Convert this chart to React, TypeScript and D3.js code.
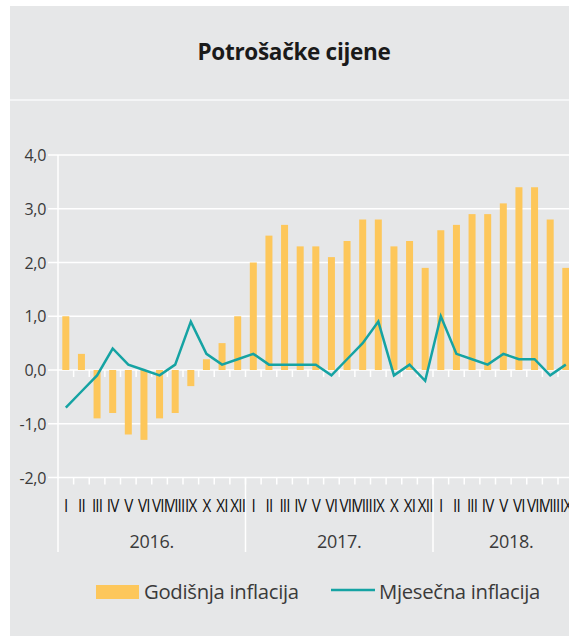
import React, { useEffect, useRef } from "react";
import * as d3 from "d3";

const years = ["2016.", "2017.", "2018."];
const monthLabels = ["I", "II", "III", "IV", "V", "VI", "VII", "VIII", "IX", "X", "XI", "XII"];
const monthsInYear = [12, 12, 10];

// Godišnja inflacija (%), Jan 2016 - Sep 2018
const annual = [
  1.0, 0.3, -0.9, -0.8, -1.2, -1.3, -0.9, -0.8, -0.3, 0.2, 0.5, 1.0,
  2.0, 2.5, 2.7, 2.3, 2.3, 2.1, 2.4, 2.8, 2.8, 2.3, 2.4, 1.9,
  2.6, 2.7, 2.9, 2.9, 3.1, 3.4, 3.4, 2.8, 1.9,
];

// Mjesečna inflacija (%)
const monthly = [
  -0.7, -0.4, -0.1, 0.4, 0.1, 0.0, -0.1, 0.1, 0.9, 0.3, 0.1, 0.2,
  0.3, 0.1, 0.1, 0.1, 0.1, -0.1, 0.2, 0.5, 0.9, -0.1, 0.1, -0.2,
  1.0, 0.3, 0.2, 0.1, 0.3, 0.2, 0.2, -0.1, 0.1,
];

const yTicks = [4, 3, 2, 1, 0, -1, -2];

const W = 569;
const H = 636;
const FONT = "'Open Sans', 'Noto Sans', sans-serif";

const App: React.FC = () => {
  const svgRef = useRef<SVGSVGElement>(null);

  useEffect(() => {
    if (!svgRef.current) return;
    const svg = d3.select(svgRef.current);
    svg.selectAll("*").remove();

    const totalMonths = d3.sum(monthsInYear);
    const left = 58;
    const monthW = 15.625;

    const x = d3
      .scaleBand<number>()
      .domain(d3.range(totalMonths))
      .range([left, left + totalMonths * monthW])
      .paddingInner(0);

    const y = d3.scaleLinear().domain([-2, 4]).range([477.5, 155]);

    // background
    svg.append("rect").attr("x", 10).attr("y", 6).attr("width", W - 10).attr("height", H - 6).attr("fill", "#e6e7e8");
    svg.append("rect").attr("x", 10).attr("y", 99).attr("width", W - 10).attr("height", 2).attr("fill", "#f4f5f6");

    svg
      .append("text")
      .attr("x", 294)
      .attr("y", 60)
      .attr("text-anchor", "middle")
      .attr("font-family", FONT)
      .attr("font-weight", 700)
      .attr("font-size", 22.5)
      .attr("fill", "#1a1a1a")
      .attr("letter-spacing", -0.3)
      .text("Potrošačke cijene");

    // grid
    const grid = svg.append("g");
    grid
      .selectAll("line")
      .data(yTicks)
      .enter()
      .append("line")
      .attr("x1", 48)
      .attr("x2", W)
      .attr("y1", (d) => y(d))
      .attr("y2", (d) => y(d))
      .attr("stroke", "#fff")
      .attr("stroke-width", 1.5);

    svg
      .append("g")
      .selectAll("text")
      .data(yTicks)
      .enter()
      .append("text")
      .attr("x", 46)
      .attr("y", (d) => y(d) + 6)
      .attr("text-anchor", "end")
      .attr("font-family", FONT)
      .attr("font-size", 16)
      .attr("fill", "#3a3a3a")
      .attr("letter-spacing", -0.3)
      .text((d) => (d < 0 ? "-" : "") + Math.abs(d).toFixed(1).replace(".", ","));

    // month ticks under 0 and -2 lines
    const bounds = d3.range(1, totalMonths);
    [0, -2].forEach((v) => {
      svg
        .append("g")
        .selectAll("line")
        .data(bounds)
        .enter()
        .append("line")
        .attr("x1", (i) => x(i)!)
        .attr("x2", (i) => x(i)!)
        .attr("y1", y(v))
        .attr("y2", y(v) + 7)
        .attr("stroke", "#fff")
        .attr("stroke-width", 1.5);
    });

    // left axis and year separators
    const yearStarts = monthsInYear.map((_, i) => d3.sum(monthsInYear.slice(0, i)));
    svg
      .append("line")
      .attr("x1", left)
      .attr("x2", left)
      .attr("y1", y(4))
      .attr("y2", 552)
      .attr("stroke", "#fff")
      .attr("stroke-width", 1.5);
    svg
      .append("g")
      .selectAll("line")
      .data(yearStarts.slice(1))
      .enter()
      .append("line")
      .attr("x1", (i) => x(i)!)
      .attr("x2", (i) => x(i)!)
      .attr("y1", y(-2))
      .attr("y2", 552)
      .attr("stroke", "#fff")
      .attr("stroke-width", 1.5);

    // bars
    const barW = 7;
    svg
      .append("g")
      .selectAll("rect")
      .data(annual)
      .enter()
      .append("rect")
      .attr("x", (_, i) => x(i)! + x.bandwidth() / 2 - barW / 2)
      .attr("y", (d) => y(Math.max(0, d)))
      .attr("width", barW)
      .attr("height", (d) => Math.abs(y(d) - y(0)))
      .attr("fill", "#fdc75b");

    // line
    const line = d3
      .line<number>()
      .x((_, i) => x(i)! + x.bandwidth() / 2)
      .y((d) => y(d));
    svg
      .append("path")
      .datum(monthly)
      .attr("fill", "none")
      .attr("stroke", "#15a3a3")
      .attr("stroke-width", 2.5)
      .attr("stroke-linejoin", "miter")
      .attr("d", line);

    // month labels (condensed, overlapping like the original)
    svg
      .append("g")
      .selectAll("text")
      .data(d3.range(totalMonths))
      .enter()
      .append("text")
      .attr("transform", (i) => `translate(${x(i)! + x.bandwidth() / 2},512) scale(0.8,1)`)
      .attr("text-anchor", "middle")
      .attr("font-family", FONT)
      .attr("font-size", 19)
      .attr("fill", "#111")
      .attr("letter-spacing", -1)
      .text((i) => monthLabels[(i - yearStarts[d3.bisectRight(yearStarts, i) - 1]) % 12]);

    // year labels
    svg
      .append("g")
      .selectAll("text")
      .data(years)
      .enter()
      .append("text")
      .attr("x", (_, i) => x(yearStarts[i])! + (monthsInYear[i] * monthW) / 2)
      .attr("y", 548)
      .attr("text-anchor", "middle")
      .attr("font-family", FONT)
      .attr("font-size", 18)
      .attr("fill", "#3a3a3a")
      .attr("letter-spacing", -0.3)
      .text((d) => d);

    // legend
    const lg = svg.append("g");
    lg.append("rect").attr("x", 96).attr("y", 585).attr("width", 43).attr("height", 14).attr("fill", "#fdc75b");
    lg.append("text")
      .attr("x", 144)
      .attr("y", 599)
      .attr("font-family", FONT)
      .attr("font-size", 20.3)
      .attr("fill", "#3a3a3a")
      .attr("letter-spacing", -0.3)
      .text("Godišnja inflacija");
    lg.append("line")
      .attr("x1", 331)
      .attr("x2", 375)
      .attr("y1", 590)
      .attr("y2", 590)
      .attr("stroke", "#15a3a3")
      .attr("stroke-width", 2.5);
    lg.append("text")
      .attr("x", 379)
      .attr("y", 599)
      .attr("font-family", FONT)
      .attr("font-size", 20.3)
      .attr("fill", "#3a3a3a")
      .attr("letter-spacing", -0.3)
      .text("Mjesečna inflacija");
  }, []);

  return (
    <div style={{ position: "fixed", top: 0, left: 0 }}>
      <svg ref={svgRef} width={W} height={H} style={{ display: "block", background: "#fff" }} />
    </div>
  );
};

export default App;
